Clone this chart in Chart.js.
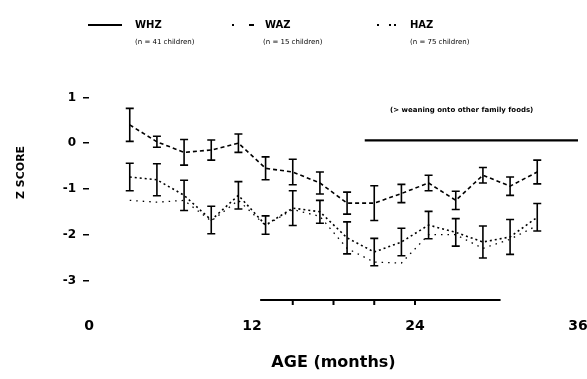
<!DOCTYPE html>
<html>
<head>
<meta charset="utf-8">
<script src="https://cdn.jsdelivr.net/npm/chart.js@4/dist/chart.umd.min.js"></script>
<style>
  body { margin: 0; background: #fff; }
  #wrap { position: relative; width: 587px; height: 379px; font-family: "DejaVu Sans", sans-serif; color: #000; }
  canvas { position: absolute; left: 0; top: 0; }
  .lg { position: absolute; white-space: nowrap; line-height: 1; }
  .lg.name { font-size: 10px; font-weight: bold; }
  .lg.sub { font-size: 7px; }
  .note { position: absolute; left: 390px; top: 107px; font-size: 7px; line-height: 1; font-weight: bold; white-space: nowrap; }
</style>
</head>
<body>
<div id="wrap">
  <canvas id="chart" width="587" height="379"></canvas>

  <!-- legend: line sample, series name, sample size -->
  <svg class="lg" style="left:86px;top:20px" width="40" height="10"><line x1="2" y1="5" x2="36" y2="5" stroke="#000" stroke-width="2"/></svg>
  <div class="lg name" style="left:135px;top:20px">WHZ</div>
  <div class="lg sub" style="left:135px;top:39px">(n = 41 children)</div>

  <svg class="lg" style="left:230px;top:20px" width="30" height="10"><line x1="2" y1="5" x2="26" y2="5" stroke="#000" stroke-width="2" stroke-dasharray="2 15 5 3"/></svg>
  <div class="lg name" style="left:265px;top:20px">WAZ</div>
  <div class="lg sub" style="left:263px;top:39px">(n = 15 children)</div>

  <svg class="lg" style="left:375px;top:20px" width="26" height="10"><line x1="2" y1="5" x2="22" y2="5" stroke="#000" stroke-width="2" stroke-dasharray="2 10 2 3 2 3"/></svg>
  <div class="lg name" style="left:410px;top:20px">HAZ</div>
  <div class="lg sub" style="left:410px;top:39px">(n = 75 children)</div>

  <div class="note">(&gt; weaning onto other family foods)</div>
</div>

<script>
// ── Data ─────────────────────────────────────────────────────────────────────
const months = [3, 5, 7, 9, 11, 13, 15, 17, 19, 21, 23, 25, 27, 29, 31, 33];

const whz    = [0.40, 0.03, -0.20, -0.15, 0.00, -0.55, -0.63, -0.87, -1.31, -1.31, -1.10, -0.87, -1.25, -0.70, -0.94, -0.63];
const whzErr = [0.36, 0.12, 0.28, 0.22, 0.20, 0.25, 0.28, 0.24, 0.24, 0.38, 0.20, 0.17, 0.20, 0.17, 0.20, 0.26];

const waz    = [-0.74, -0.80, -1.14, -1.68, -1.14, -1.79, -1.42, -1.50, -2.07, -2.38, -2.16, -1.79, -1.95, -2.16, -2.05, -1.62];
const wazErr = [0.30, 0.35, 0.33, 0.30, 0.30, 0.20, 0.38, 0.25, 0.35, 0.30, 0.30, 0.30, 0.30, 0.35, 0.38, 0.30];

const haz    = [-1.25, -1.29, -1.25, -1.70, -1.25, -1.80, -1.45, -1.60, -2.30, -2.60, -2.62, -2.00, -2.00, -2.30, -2.10, -1.80];

// reference bar drawn across the later months
const refSpan  = [20.3, 36];
const refLevel = 0.06;

// axis ticks / labels
const xTicks = [0, 12, 24, 36];
const yTicks = [1, 0, -1, -2, -3];
const axisSpan = [12.6, 30.3];          // part of the x axis still visible in the print
const axisTickMonths = [15, 18, 21, 24];

// ── Helpers ──────────────────────────────────────────────────────────────────
const pts = (ys) => months.map((m, i) => ({ x: m, y: ys[i] }));
const FONT = "'DejaVu Sans', sans-serif";

// error bars with caps, from dataset.errors
const errorBars = {
  id: "errorBars",
  afterDatasetsDraw(chart) {
    const { ctx, scales: { x, y } } = chart;
    chart.data.datasets.forEach((ds) => {
      if (!ds.errors) return;
      ctx.save();
      ctx.strokeStyle = "#000";
      ctx.lineWidth = 1.6;
      ctx.setLineDash([]);
      ds.data.forEach((p, i) => {
        const e = ds.errors[i];
        if (!e) return;
        const px = x.getPixelForValue(p.x);
        const top = y.getPixelForValue(p.y + e);
        const bot = y.getPixelForValue(p.y - e);
        ctx.beginPath();
        ctx.moveTo(px, top); ctx.lineTo(px, bot);
        ctx.moveTo(px - 4, top); ctx.lineTo(px + 4, top);
        ctx.moveTo(px - 4, bot); ctx.lineTo(px + 4, bot);
        ctx.stroke();
      });
      ctx.restore();
    });
  },
};

// x axis line (only the surviving stretch) with tick marks
const partialAxis = {
  id: "partialAxis",
  afterDraw(chart) {
    const { ctx, scales: { x, y } } = chart;
    const yy = y.getPixelForValue(y.min) - 1;
    ctx.save();
    ctx.strokeStyle = "#000";
    ctx.lineWidth = 2;
    ctx.beginPath();
    ctx.moveTo(x.getPixelForValue(axisSpan[0]), yy);
    ctx.lineTo(x.getPixelForValue(axisSpan[1]), yy);
    axisTickMonths.forEach((m) => {
      const px = x.getPixelForValue(m);
      ctx.moveTo(px, yy);
      ctx.lineTo(px, yy + 5);
    });
    ctx.stroke();
    ctx.restore();
  },
};

// ── Chart ────────────────────────────────────────────────────────────────────
new Chart(document.getElementById("chart"), {
  type: "line",
  data: {
    datasets: [
      { label: "WHZ", data: pts(whz), errors: whzErr, borderColor: "#000", borderWidth: 1.6, borderDash: [4, 3] },
      { label: "WAZ", data: pts(waz), errors: wazErr, borderColor: "#000", borderWidth: 1.6, borderDash: [2, 3] },
      { label: "HAZ", data: pts(haz), borderColor: "#000", borderWidth: 1.3, borderDash: [1.5, 5] },
      { label: "ref", data: refSpan.map((m) => ({ x: m, y: refLevel })), borderColor: "#000", borderWidth: 2.2 },
    ],
  },
  options: {
    responsive: false,
    animation: false,
    layout: { padding: { top: 86, right: 9, bottom: 0, left: 0 } },
    elements: { point: { radius: 0 }, line: { tension: 0, fill: false } },
    plugins: { legend: { display: false }, tooltip: { enabled: false } },
    scales: {
      x: {
        type: "linear", min: 0, max: 36,
        afterBuildTicks: (s) => { s.ticks = xTicks.map((v) => ({ value: v })); },
        afterFit: (s) => { s.height = 78; s.paddingLeft = 0; s.paddingRight = 0; },
        grid: { display: false, drawTicks: false },
        border: { display: false },
        ticks: { color: "#000", padding: 17, maxRotation: 0, font: { family: FONT, size: 14, weight: "bold" } },
        title: { display: true, text: "AGE (months)", color: "#000", padding: { top: 4, bottom: 7 },
                 font: { family: FONT, size: 16, weight: "bold" } },
      },
      y: {
        type: "linear", min: -3.45, max: 1.25,
        afterBuildTicks: (s) => { s.ticks = yTicks.map((v) => ({ value: v })); },
        afterFit: (s) => { s.width = 89; },
        grid: { drawOnChartArea: false, drawTicks: true, tickLength: 6, color: "#000", lineWidth: 1.5 },
        border: { display: false },
        ticks: { color: "#000", padding: 7, font: { family: FONT, size: 12, weight: "bold" } },
        title: { display: true, text: "           Z SCORE", color: "#000", padding: { top: 15, bottom: 0 },
                 font: { family: FONT, size: 11, weight: "bold" } },
      },
    },
  },
  plugins: [errorBars, partialAxis],
});
</script>
</body>
</html>
